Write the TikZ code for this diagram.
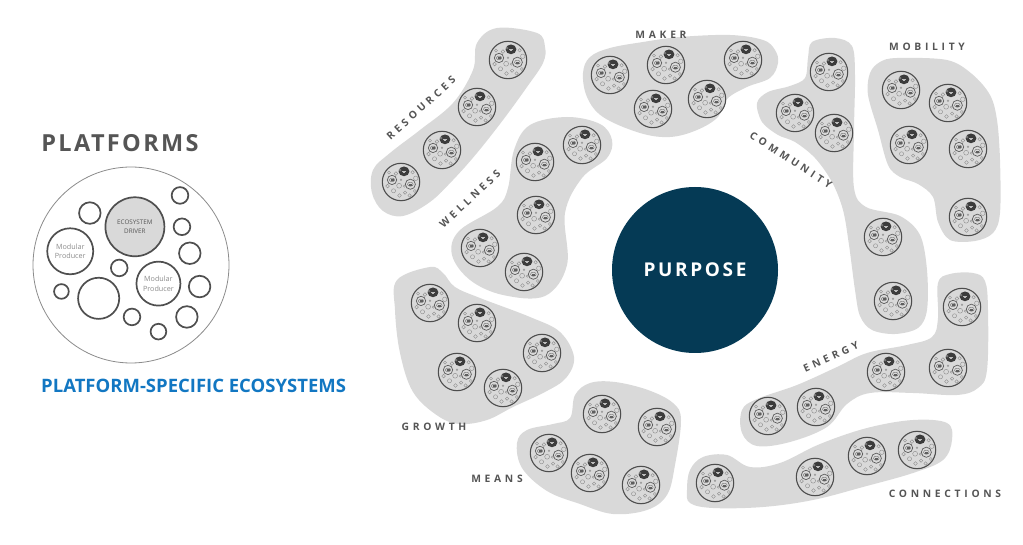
\documentclass[tikz,border=0pt]{standalone}
\usepackage{fontspec}
\setmainfont{Open Sans}
\newfontfamily\spaced[LetterSpace=36]{Open Sans}
\newfontfamily\titlefont[LetterSpace=10]{Open Sans}
\newfontfamily\purposefont[LetterSpace=14]{Open Sans}
\definecolor{blobc}{HTML}{D9D9D9}
\definecolor{iconc}{HTML}{4D4D4D}
\definecolor{innerc}{HTML}{8C8C8C}
\definecolor{mpc}{HTML}{5E5E5E}
\definecolor{drvc}{HTML}{3C3C3C}
\definecolor{labelc}{HTML}{555555}
\definecolor{bigc}{HTML}{4F4F4F}
\definecolor{purposec}{HTML}{053A55}
\definecolor{bluec}{HTML}{1277C2}
\tikzset{
  blob/.style={fill=blobc},
  lbl/.style={font=\spaced\bfseries\fontsize{10.3}{12}\selectfont, text=labelc, inner sep=0pt},
  mini/.pic={
    \begin{scope}[scale=0.187]
      \filldraw[fill=blobc, draw=iconc, line width=1.1pt] (0,0) circle (100);
      \fill[drvc] (16,-57) ellipse (29 and 26);
      \draw[white!65!drvc, line width=0.25pt] (6,-60) -- (26,-60) (8,-54) -- (24,-54);
      \draw[mpc, line width=0.7pt] (-48,-11) circle (25) (50,12) circle (27);
      \draw[mpc, line width=0.35pt] (-48,-11) ellipse (14 and 10) (50,12) ellipse (15 and 11);
      \draw[mpc, line width=0.2pt] (-56,-13) -- (-40,-13) (-56,-8) -- (-40,-8)
            (42,10) -- (58,10) (42,15) -- (58,15);
      \draw[innerc, line width=0.4pt]
        (-27,-45) circle (10) (-5,-64) circle (6) (62,-52) circle (9) (79,-20) circle (12)
        (0,-12) circle (5) (-10,20) circle (13) (-72,22) circle (10) (-40,47) circle (11)
        (-8,72) circle (10) (22,57) circle (9) (46,72) circle (9) (74,48) circle (8)
        (-64,-50) circle (8) (18,22) circle (6);
    \end{scope}
  },
  bigstroke/.style={draw=bigc, line width=1.7pt},
}
\begin{document}
\begin{tikzpicture}[x=1pt,y=-1pt]
\useasboundingbox (0,0) rectangle (1023,545);

% ---------- left: platforms ----------
\node[font=\titlefont\bfseries\fontsize{23.5}{28}\selectfont, text=labelc, inner sep=0pt] (ptitle) at (120,143) {PLATFORMS};
\begin{scope}[shift={(131,265)}, scale=0.98]
  \filldraw[fill=white, draw=innerc, line width=0.8pt] (0,0) circle (100);
  \node[circle, bigstroke, fill=blobc, minimum size=59pt, inner sep=0pt, align=center,
        font=\fontsize{6.3}{9}\selectfont, text=labelc] (driver) at (4,-39) {ECOSYSTEM\\DRIVER};
  \node[circle, bigstroke, minimum size=46pt, inner sep=0pt, align=center,
        font=\fontsize{7.2}{9.5}\selectfont, text=innerc] (mpl) at (-62,-14) {Modular\\Producer};
  \node[circle, bigstroke, minimum size=44pt, inner sep=0pt, align=center,
        font=\fontsize{7.2}{9.5}\selectfont, text=innerc] (mpr) at (28,19) {Modular\\Producer};
  \draw[bigstroke] (-33,34) circle (21)
    (-42,-53) circle (11) (50,-71) circle (8.5) (52,-39) circle (8.5) (60,-12) circle (11)
    (-12,3) circle (8.5) (-71,27) circle (7.5) (70,22) circle (11) (1,53) circle (8.5)
    (57,53) circle (11) (28,68) circle (8);
\end{scope}
\node[anchor=west, font=\bfseries\fontsize{18.5}{22}\selectfont, text=bluec, inner sep=0pt] (pse) at (41,386) {PLATFORM-SPECIFIC ECOSYSTEMS};

% ---------- blobs ----------
% resources
\fill[blob] plot[smooth cycle, tension=0.6] coordinates {(497,28) (537,33) (545,47) (543,63) (527,87) (503,120) (477,153) (453,180) (430,202) (403,216) (383,211) (372,193) (373,170) (390,153) (420,130) (453,103) (473,70) (477,43)};
% maker
\fill[blob] plot[smooth cycle, tension=0.6] coordinates {(583,73) (590,57) (610,48) (643,42) (680,37) (730,35) (763,40) (775,50) (778,63) (770,78) (747,87) (727,99) (718,117) (697,130) (670,137) (640,133) (603,117) (587,97)};
% community
\fill[blob] plot[smooth cycle, tension=0.55] coordinates {(812,42) (835,38) (852,46) (855,75) (854,130) (854,188) (866,207) (900,216) (920,235) (927,270) (927,310) (918,328) (895,334) (872,330) (860,316) (855,290) (849,245) (843,210) (832,182) (815,158) (795,142) (778,135) (762,122) (757,103) (768,92) (790,86) (805,78) (808,58)};
% mobility
\fill[blob] plot[smooth cycle, tension=0.55] coordinates {(897,58) (947,60) (972,74) (990,95) (997,120) (1000,160) (1000,213) (993,233) (975,241) (950,240) (938,222) (933,197) (918,184) (900,177) (888,165) (878,130) (868,95) (870,73) (880,62)};
% wellness
\fill[blob] plot[smooth cycle, tension=0.6] coordinates {(567,117) (600,124) (612,140) (607,158) (582,178) (565,213) (567,265) (545,296) (503,295) (470,280) (452,255) (459,231) (497,207) (508,188) (514,150) (530,125)};
% growth
\fill[blob] plot[smooth cycle, tension=0.6] coordinates {(430,267) (443,273) (455,287) (480,298) (530,317) (560,332) (574,357) (566,378) (545,392) (513,407) (487,420) (460,424) (438,416) (413,392) (400,353) (395,310) (397,280)};
% means
\fill[blob] plot[smooth cycle, tension=0.6] coordinates {(590,383) (615,382) (648,390) (673,403) (681,420) (675,465) (667,495) (647,510) (613,514) (580,504) (547,491) (522,468) (517,443) (527,430) (553,424) (570,418) (575,395)};
% energy
\fill[blob] plot[smooth cycle, tension=0.6] coordinates {(938,283) (950,274) (973,273) (985,281) (988,310) (987,370) (978,388) (957,395) (913,393) (870,393) (847,404) (827,427) (790,442) (757,446) (742,433) (742,410) (757,399) (797,385) (837,367) (867,353) (907,345) (932,337) (938,318)};
% connections
\fill[blob] plot[smooth cycle, tension=0.6] coordinates {(687,490) (690,470) (703,457) (727,455) (750,467) (780,463) (820,444) (867,428) (913,420) (947,423) (952,440) (943,460) (913,473) (863,487) (813,500) (763,507) (713,508) (690,503)};

% ---------- purpose ----------
\node[circle, fill=purposec, minimum size=166pt, inner sep=0pt,
      font=\purposefont\bfseries\fontsize{19}{22}\selectfont, text=white] (purpose) at (695,270) {PURPOSE};

% ---------- icons ----------
\foreach \p in {(508,60),(477,107),(442,150),(401,182),
                (610,75),(666,65),(743,60),(653,109),(707,99),
                (829,72),(795,113),(834,133),(883,237),(893,301),
                (901,90),(948,103),(909,145),(968,149),(968,217),
                (582,145),(535,162),(536,215),(480,248),(524,272),
                (430,303),(477,323),(542,353),(457,372),(503,388),
                (602,414),(657,427),(549,453),(590,473),(641,485),
                (962,307),(948,368),(886,372),(816,407),(768,416),
                (715,483),(815,477),(867,456),(917,450)}
  \pic at \p {mini};

% ---------- labels ----------
\node[lbl, rotate=42] (lres) at (421,108) {RESOURCES};
\node[lbl] (lmaker) at (661,35) {MAKER};
\node[lbl, rotate=-33] (lcomm) at (791,160) {COMMUNITY};
\node[lbl] (lmob) at (927,47) {MOBILITY};
\node[lbl, rotate=43] (lwell) at (470,199) {WELLNESS};
\node[lbl] (lgrowth) at (434,427) {GROWTH};
\node[lbl] (lmeans) at (497,479) {MEANS};
\node[lbl, rotate=24] (lenergy) at (831,357) {ENERGY};
\node[lbl] (lconn) at (945,494) {CONNECTIONS};
\end{tikzpicture}
\end{document}
